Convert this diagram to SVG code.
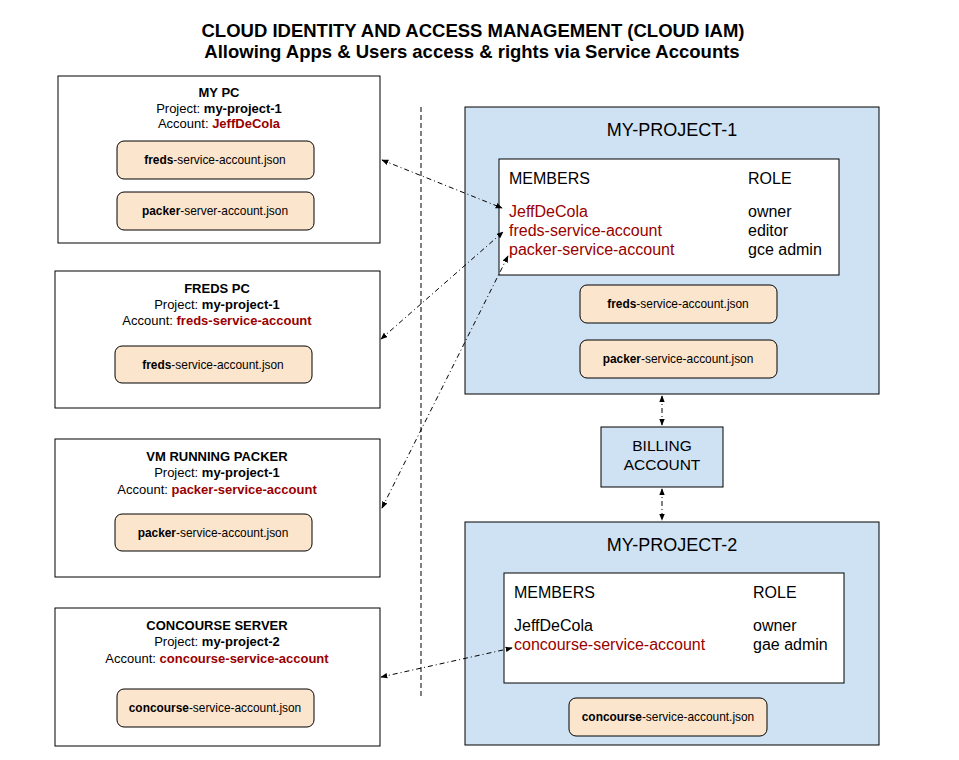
<svg xmlns="http://www.w3.org/2000/svg" width="959" height="760" viewBox="0 0 959 760">
<style>
text{font-family:"Liberation Sans",Arial,sans-serif;fill:#000}
.ttl{font-size:18.5px;font-weight:bold;text-anchor:middle}
.box{fill:#fff;stroke:#000;stroke-width:1}
.proj{fill:#cfe2f3;stroke:#000;stroke-width:1}
.file{fill:#fce5cd;stroke:#000;stroke-width:1}
.lt{font-size:13px;text-anchor:middle}
.ft{font-size:11.9px;text-anchor:middle}
.b{font-weight:bold}
.red{fill:#990000}
.pt{font-size:18px;text-anchor:middle}
.mt{font-size:16px}
.conn{fill:none;stroke:#000;stroke-width:1;stroke-dasharray:5 3 1 3}
</style>
<defs>
<marker id="ah" viewBox="0 0 10 10" refX="9" refY="5" markerWidth="7" markerHeight="7" orient="auto-start-reverse" markerUnits="userSpaceOnUse">
<path d="M0,1 L10,5 L0,9 z" fill="#000"/>
</marker>
</defs>

<g id="title">
<text class="ttl" x="473" y="37">CLOUD IDENTITY AND ACCESS MANAGEMENT (CLOUD IAM)</text>
<text class="ttl" x="472" y="58">Allowing Apps &amp; Users access &amp; rights via Service Accounts</text>
</g>

<g id="my-pc">
<rect class="box" x="58" y="76" width="322" height="167"/>
<text class="lt b" x="219" y="97">MY PC</text>
<text class="lt" x="219" y="112.5">Project: <tspan class="b">my-project-1</tspan></text>
<text class="lt" x="219" y="128">Account: <tspan class="b red">JeffDeCola</tspan></text>
<rect class="file" x="117" y="141" width="197" height="38" rx="7"/>
<text class="ft" x="215" y="164"><tspan class="b">freds</tspan>-service-account.json</text>
<rect class="file" x="117" y="192" width="197" height="38" rx="7"/>
<text class="ft" x="215" y="215"><tspan class="b">packer</tspan>-server-account.json</text>
</g>

<g id="freds-pc">
<rect class="box" x="55" y="271" width="325" height="137"/>
<text class="lt b" x="217" y="293">FREDS PC</text>
<text class="lt" x="217" y="309">Project: <tspan class="b">my-project-1</tspan></text>
<text class="lt" x="217" y="325">Account: <tspan class="b red">freds-service-account</tspan></text>
<rect class="file" x="115" y="346" width="197" height="37" rx="7"/>
<text class="ft" x="213" y="369"><tspan class="b">freds</tspan>-service-account.json</text>
</g>

<g id="vm-packer">
<rect class="box" x="55" y="439" width="325" height="138"/>
<text class="lt b" x="217" y="461">VM RUNNING PACKER</text>
<text class="lt" x="217" y="477">Project: <tspan class="b">my-project-1</tspan></text>
<text class="lt" x="217" y="494">Account: <tspan class="b red">packer-service-account</tspan></text>
<rect class="file" x="115" y="514" width="197" height="37" rx="7"/>
<text class="ft" x="213" y="537"><tspan class="b">packer</tspan>-service-account.json</text>
</g>

<g id="concourse-server">
<rect class="box" x="55" y="608" width="325" height="138"/>
<text class="lt b" x="217" y="630">CONCOURSE SERVER</text>
<text class="lt" x="217" y="646">Project: <tspan class="b">my-project-2</tspan></text>
<text class="lt" x="217" y="663">Account: <tspan class="b red">concourse-service-account</tspan></text>
<rect class="file" x="117" y="689" width="197" height="38" rx="7"/>
<text class="ft" x="215" y="712"><tspan class="b">concourse</tspan>-service-account.json</text>
</g>

<g id="my-project-1">
<rect class="proj" x="465" y="107" width="414" height="287"/>
<text class="pt" x="672" y="136">MY-PROJECT-1</text>
<rect class="box" x="499" y="159" width="340" height="116"/>
<text class="mt" x="509" y="184">MEMBERS</text>
<text class="mt" x="748" y="184">ROLE</text>
<text class="mt red" x="509" y="217">JeffDeCola</text>
<text class="mt red" x="509" y="236">freds-service-account</text>
<text class="mt red" x="509" y="255">packer-service-account</text>
<text class="mt" x="748" y="217">owner</text>
<text class="mt" x="748" y="236">editor</text>
<text class="mt" x="748" y="255">gce admin</text>
<rect class="file" x="580" y="285" width="197" height="38" rx="7"/>
<text class="ft" x="678" y="308"><tspan class="b">freds</tspan>-service-account.json</text>
<rect class="file" x="580" y="340" width="197" height="38" rx="7"/>
<text class="ft" x="678" y="363"><tspan class="b">packer</tspan>-service-account.json</text>
</g>

<g id="billing-account">
<rect class="proj" x="601" y="427" width="122" height="60"/>
<text class="mt" x="662" y="451" text-anchor="middle" style="font-size:15.5px">BILLING</text>
<text class="mt" x="662" y="470" text-anchor="middle" style="font-size:15.5px">ACCOUNT</text>
</g>

<g id="my-project-2">
<rect class="proj" x="465" y="522" width="414" height="223"/>
<text class="pt" x="672" y="551">MY-PROJECT-2</text>
<rect class="box" x="504" y="573" width="340" height="110"/>
<text class="mt" x="514" y="598">MEMBERS</text>
<text class="mt" x="753" y="598">ROLE</text>
<text class="mt" x="514" y="631">JeffDeCola</text>
<text class="mt red" x="514" y="650">concourse-service-account</text>
<text class="mt" x="753" y="631">owner</text>
<text class="mt" x="753" y="650">gae admin</text>
<rect class="file" x="569" y="698" width="198" height="38" rx="7"/>
<text class="ft" x="668" y="721"><tspan class="b">concourse</tspan>-service-account.json</text>
</g>

<g id="connectors">
<line x1="421" y1="107" x2="421" y2="699" stroke="#000" stroke-width="1" stroke-dasharray="5 3"/>
<line class="conn" x1="382" y1="160" x2="502" y2="208" marker-start="url(#ah)" marker-end="url(#ah)"/>
<line class="conn" x1="381" y1="339" x2="503" y2="232" marker-start="url(#ah)" marker-end="url(#ah)"/>
<line class="conn" x1="382" y1="508" x2="508" y2="256" marker-start="url(#ah)" marker-end="url(#ah)"/>
<line class="conn" x1="381" y1="677" x2="512" y2="648" marker-start="url(#ah)" marker-end="url(#ah)"/>
<line class="conn" x1="662" y1="396" x2="662" y2="425" marker-start="url(#ah)" marker-end="url(#ah)"/>
<line class="conn" x1="662" y1="489" x2="662" y2="520" marker-start="url(#ah)" marker-end="url(#ah)"/>
</g>
</svg>
